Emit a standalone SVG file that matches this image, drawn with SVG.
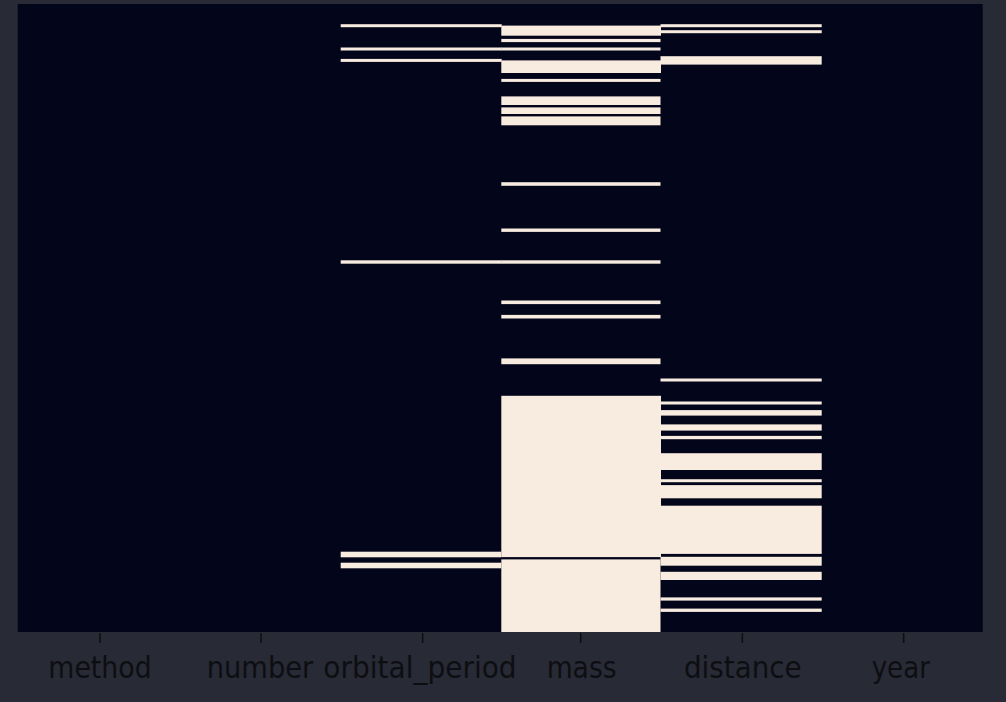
<svg xmlns="http://www.w3.org/2000/svg" width="1006" height="702" viewBox="0 0 1006 702">
<style>
.m{fill:#f8ebdf}
.lbl{font-family:"DejaVu Sans",sans-serif;font-size:29.5px;fill:#0e0e12;text-anchor:middle}
.tick{stroke:#0e0e12;stroke-width:1.6}
</style>
<rect id="bg" x="0" y="0" width="1006" height="702" fill="#282a36"/>
<g id="heatmap">
<rect x="17.7" y="4" width="965" height="628" fill="#03051a"/>
<g id="col-orbital_period">
<rect class="m" x="340.7" y="24.2" width="161" height="3"/>
<rect class="m" x="340.7" y="47.5" width="161" height="3"/>
<rect class="m" x="340.7" y="58.9" width="161" height="3"/>
<rect class="m" x="340.7" y="260.3" width="161" height="3.4"/>
<rect class="m" x="340.7" y="551.7" width="160.6" height="5.6"/>
<rect class="m" x="340.7" y="562.7" width="160.6" height="5.6"/>
</g>
<g id="col-mass">
<rect class="m" x="501.3" y="25.6" width="159.7" height="10.1"/>
<rect class="m" x="501.3" y="38.9" width="159.2" height="3.2"/>
<rect class="m" x="501.3" y="47.5" width="159.2" height="3"/>
<rect class="m" x="501.3" y="60.4" width="159.7" height="12.6"/>
<rect class="m" x="501.3" y="78.9" width="159.2" height="3"/>
<rect class="m" x="501.3" y="96.4" width="159.2" height="8.6"/>
<rect class="m" x="501.3" y="107.4" width="159.2" height="6.6"/>
<rect class="m" x="501.3" y="116.4" width="159.2" height="8.9"/>
<rect class="m" x="501.3" y="182.2" width="159.2" height="3.6"/>
<rect class="m" x="501.3" y="228.5" width="159.2" height="3.4"/>
<rect class="m" x="501.3" y="260.3" width="159.2" height="3.4"/>
<rect class="m" x="501.3" y="300.5" width="159.2" height="3.6"/>
<rect class="m" x="501.3" y="314.9" width="159.2" height="3.6"/>
<rect class="m" x="501.3" y="358.4" width="159.2" height="5.8"/>
<rect class="m" x="501.3" y="395.8" width="159.7" height="161.3"/>
<rect class="m" x="501.3" y="559.4" width="159.2" height="72.6"/>
</g>
<g id="col-distance">
<rect class="m" x="660.5" y="24.2" width="161.2" height="3"/>
<rect class="m" x="660.5" y="30.2" width="161.2" height="3"/>
<rect class="m" x="660.5" y="56.2" width="161.2" height="8.4"/>
<rect class="m" x="660.5" y="378.5" width="161.2" height="3"/>
<rect class="m" x="660.5" y="401.5" width="161.2" height="3"/>
<rect class="m" x="660.5" y="410.1" width="161.2" height="5.5"/>
<rect class="m" x="660.5" y="424.4" width="161.2" height="6.2"/>
<rect class="m" x="660.5" y="435.9" width="161.2" height="3.3"/>
<rect class="m" x="660.5" y="453.2" width="161.2" height="16.8"/>
<rect class="m" x="660.5" y="479.2" width="161.2" height="3"/>
<rect class="m" x="660.5" y="485.1" width="161.2" height="13.2"/>
<rect class="m" x="660.5" y="505.7" width="161.2" height="48.2"/>
<rect class="m" x="660.5" y="556.8" width="161.2" height="8.9"/>
<rect class="m" x="660.5" y="571.8" width="161.2" height="8.2"/>
<rect class="m" x="660.5" y="597.4" width="161.2" height="3.2"/>
<rect class="m" x="660.5" y="608.6" width="161.2" height="3.3"/>
</g>
</g>
<g id="x-axis">
<g id="ticks">
<line class="tick" x1="100" y1="633" x2="100" y2="643"/>
<line class="tick" x1="261" y1="633" x2="261" y2="643"/>
<line class="tick" x1="422.7" y1="633" x2="422.7" y2="643"/>
<line class="tick" x1="580.7" y1="633" x2="580.7" y2="643"/>
<line class="tick" x1="742.3" y1="633" x2="742.3" y2="643"/>
<line class="tick" x1="903.7" y1="633" x2="903.7" y2="643"/>
</g>
<g id="labels">
<text class="lbl" x="100" y="678" textLength="103.4" lengthAdjust="spacingAndGlyphs">method</text>
<text class="lbl" x="260" y="678" textLength="106.7" lengthAdjust="spacingAndGlyphs">number</text>
<text class="lbl" x="420" y="678" textLength="193.3" lengthAdjust="spacingAndGlyphs">orbital_period</text>
<text class="lbl" x="581.7" y="678" textLength="70" lengthAdjust="spacingAndGlyphs">mass</text>
<text class="lbl" x="742.8" y="678" textLength="117.7" lengthAdjust="spacingAndGlyphs">distance</text>
<text class="lbl" x="900.8" y="678" textLength="58.3" lengthAdjust="spacingAndGlyphs">year</text>
</g>
</g>
</svg>
